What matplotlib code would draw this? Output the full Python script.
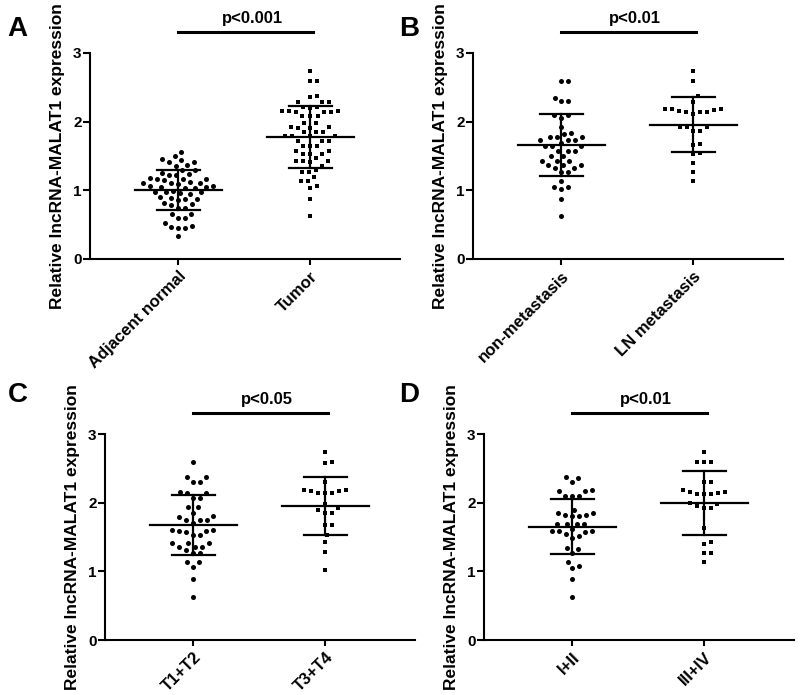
import numpy as np
import matplotlib
matplotlib.use("Agg")
import matplotlib.pyplot as plt

plt.rcParams["font.family"] = ["Liberation Sans", "DejaVu Sans"]
plt.rcParams["font.weight"] = "bold"

YLABEL = "Relative lncRNA-MALAT1 expression"

# panel A
a_groups = ["Adjacent normal", "Tumor"]
a_normal = [1.565, 1.50, 1.44, 1.41, 1.415, 1.45, 1.36, 1.37, 1.30, 1.29, 1.24, 1.23,
            1.25, 1.22, 1.165, 1.16, 1.17, 1.18, 1.15, 1.10, 1.11, 1.095, 1.10, 1.12,
            1.06, 1.05, 1.04, 1.05, 1.03, 1.06, 0.99, 0.97, 0.96, 0.98, 0.95, 0.97,
            0.88, 0.89, 0.87, 0.90, 0.86, 0.81, 0.80, 0.78, 0.74, 0.75,
            0.66, 0.66, 0.59, 0.59, 0.53, 0.48, 0.45, 0.47, 0.45, 0.335]
a_tumor = [2.742, 2.596, 2.596, 2.37, 2.36, 2.29, 2.29, 2.29, 2.21, 2.21, 2.20, 2.15,
           2.14, 2.15, 2.15, 2.14, 2.14, 2.08, 2.08, 2.08, 1.98, 1.98, 1.92, 1.91, 1.92,
           1.91, 1.85, 1.85, 1.85, 1.79, 1.79, 1.79, 1.79, 1.72, 1.72, 1.72, 1.64, 1.64,
           1.64, 1.58, 1.58, 1.53, 1.53, 1.53, 1.47, 1.42, 1.42, 1.42, 1.41, 1.36, 1.30,
           1.27, 1.27, 1.19, 1.13, 1.13, 1.07, 1.03, 0.87, 0.627]
a_mean = [1.00, 1.78]
a_sd = [0.29, 0.45]

# panel B
b_groups = ["non-metastasis", "LN metastasis"]
b_non = [2.586, 2.586, 2.35, 2.295, 2.295, 2.10, 2.10, 2.05, 1.92, 1.82, 1.84, 1.78,
         1.78, 1.78, 1.73, 1.73, 1.73, 1.65, 1.65, 1.65, 1.69, 1.58, 1.58, 1.58, 1.50,
         1.50, 1.43, 1.43, 1.43, 1.37, 1.37, 1.37, 1.33, 1.33, 1.27, 1.27, 1.13, 1.05,
         1.05, 1.02, 0.875, 0.627]
b_ln = [2.742, 2.586, 2.37, 2.29, 2.19, 2.18, 2.17, 2.14, 2.11, 2.14, 2.14, 2.16, 2.18,
        1.92, 1.92, 1.92, 1.87, 1.86, 1.66, 1.68, 1.55, 1.53, 1.40, 1.26, 1.13]
b_mean = [1.655, 1.955]
b_sd = [0.45, 0.40]

# panel C
c_groups = ["T1+T2", "T3+T4"]
c_t12 = [2.586, 2.37, 2.37, 2.30, 2.30, 2.14, 2.16, 2.14, 2.07, 2.07, 1.93, 1.93, 1.81,
         1.79, 1.85, 1.75, 1.75, 1.75, 1.71, 1.60, 1.58, 1.60, 1.59, 1.59, 1.53, 1.53,
         1.41, 1.41, 1.41, 1.36, 1.36, 1.36, 1.31, 1.26, 1.26, 1.14, 1.14, 1.07, 0.885,
         0.622]
c_t34 = [2.737, 2.59, 2.58, 2.30, 2.18, 2.17, 2.14, 2.14, 2.14, 2.17, 2.19, 1.98, 1.92,
         1.90, 1.85, 1.85, 1.68, 1.68, 1.53, 1.43, 1.28, 1.02]
c_mean = [1.675, 1.955]
c_sd = [0.44, 0.42]

# panel D
d_groups = ["I+II", "III+IV"]
d_12 = [2.37, 2.36, 2.30, 2.17, 2.18, 2.17, 2.10, 2.10, 2.10, 1.90, 1.85, 1.82, 1.80,
        1.81, 1.82, 1.85, 1.69, 1.69, 1.69, 1.69, 1.61, 1.59, 1.59, 1.58, 1.55, 1.59,
        1.52, 1.49, 1.34, 1.32, 1.26, 1.14, 1.05, 1.08, 0.885, 0.622]
d_34 = [2.737, 2.59, 2.59, 2.59, 2.30, 2.30, 2.16, 2.14, 2.13, 2.12, 2.13, 2.15, 2.19,
        2.00, 1.95, 1.92, 1.92, 1.98, 1.63, 1.40, 1.42, 1.27, 1.26, 1.13]
d_mean = [1.648, 1.995]
d_sd = [0.40, 0.46]

p_texts = ["p<0.001", "p<0.01", "p<0.05", "p<0.01"]


def swarm_offsets(ax, values, center, gap=7.0):
    """simple beeswarm: x offsets (data units) so points don't overlap in pixel space"""
    trans = ax.transData
    vals = np.asarray(values, dtype=float)
    order = np.argsort(vals)
    py = trans.transform(np.column_stack([np.full(len(vals), center), vals]))[:, 1]
    px0 = trans.transform([[center, 0]])[0, 0]
    placed = []
    xs_px = np.zeros(len(vals))
    cands = [0.0]
    for k in range(1, 80):
        cands += [k * 1.0, -k * 1.0]
    for i in order:
        for c in cands:
            ok = True
            for (qx, qy) in placed:
                if (c - qx) ** 2 + (py[i] - qy) ** 2 < gap ** 2:
                    ok = False
                    break
            if ok:
                xs_px[i] = c
                placed.append((c, py[i]))
                break
    pts = np.column_stack([px0 + xs_px, py])
    return trans.inverted().transform(pts)[:, 0]


def draw_panel(fig, rect, letter, groups, data, means, sds, ptext, letter_xy):
    ax = fig.add_axes(rect)
    ax.set_xlim(-0.67, 1.68)
    ax.set_ylim(0, 3)
    markers = ["o", "s"]
    sizes = [13, 11]
    for i, vals in enumerate(data):
        xs = swarm_offsets(ax, vals, i)
        ax.scatter(xs, vals, marker=markers[i], s=sizes[i], color="black",
                   linewidths=0, zorder=3, clip_on=False)
        m, sd = means[i], sds[i]
        ax.plot([i - 0.33, i + 0.33], [m, m], color="black", lw=1.6, zorder=4)
        ax.plot([i - 0.165, i + 0.165], [m + sd, m + sd], color="black", lw=1.6, zorder=4)
        ax.plot([i - 0.165, i + 0.165], [m - sd, m - sd], color="black", lw=1.6, zorder=4)
        ax.plot([i, i], [m - sd, m + sd], color="black", lw=1.6, zorder=4)

    ax.plot([0, 1.02], [3.3, 3.3], color="black", lw=2.2, clip_on=False)
    ax.text(0.56, 3.39, ptext, ha="center", va="bottom", fontsize=12,
            fontweight="bold")

    for s in ["top", "right"]:
        ax.spines[s].set_visible(False)
    ax.spines["left"].set_linewidth(1.5)
    ax.spines["bottom"].set_linewidth(1.5)
    ax.set_yticks([0, 1, 2, 3])
    ax.set_xticks([0, 1])
    ax.set_xticklabels(groups, rotation=45, ha="right", va="top",
                       rotation_mode="anchor", fontsize=12, fontweight="bold")
    ax.tick_params(axis="y", length=5, width=1.5, labelsize=11, pad=1)
    ax.tick_params(axis="x", length=4, width=1.5, pad=3)
    ax.set_ylabel(YLABEL, fontsize=12.5, fontweight="bold", labelpad=6)
    fig.text(letter_xy[0], letter_xy[1], letter, fontsize=20, fontweight="bold",
             ha="center", va="center")
    return ax


W, H = 800, 695
fig = plt.figure(figsize=(W / 100, H / 100), dpi=100)


def rect(left, bottom_px):
    return [left / W, 1 - bottom_px / H, 310 / W, 206 / H]


draw_panel(fig, rect(90, 259), "A", a_groups, [a_normal, a_tumor], a_mean, a_sd,
           p_texts[0], (17 / W, 1 - 29 / H))
draw_panel(fig, rect(473, 259), "B", b_groups, [b_non, b_ln], b_mean, b_sd,
           p_texts[1], (409 / W, 1 - 29 / H))
draw_panel(fig, rect(105, 640), "C", c_groups, [c_t12, c_t34], c_mean, c_sd,
           p_texts[2], (18 / W, 1 - 395 / H))
draw_panel(fig, rect(484, 640), "D", d_groups, [d_12, d_34], d_mean, d_sd,
           p_texts[3], (409 / W, 1 - 395 / H))

fig.savefig("out.png", dpi=100)
